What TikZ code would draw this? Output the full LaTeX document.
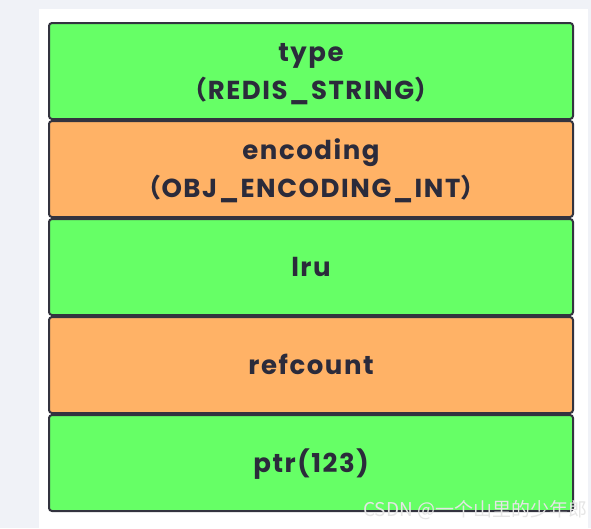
\documentclass[tikz,border=0pt]{standalone}
\usepackage{fontspec}
\usepackage{xcolor}
\usetikzlibrary{positioning}
\setmainfont{Poppins}[LetterSpace=6]
\newfontfamily\cjk{Noto Sans CJK SC}

\definecolor{fieldgreen}{HTML}{66FF66}
\definecolor{fieldorange}{HTML}{FFB266}
\definecolor{fieldline}{HTML}{33333F}
\definecolor{fieldtext}{HTML}{2B2B3B}
\definecolor{pagegray}{HTML}{F0F2F7}

\newcommand{\lpar}{{\cjk（}}
\newcommand{\rpar}{{\cjk）}}

\tikzset{
	field/.style={draw=fieldline, line width=2pt, rounded corners=3pt,
		minimum width=524pt, minimum height=96pt, inner sep=0pt,
		text height=25pt, text depth=6pt,
		align=center, text=fieldtext, font=\fontsize{26}{38}\selectfont\bfseries},
	twolines/.style={text height=62pt, text depth=6pt},
	greenfield/.style={field, fill=fieldgreen},
	orangefield/.style={field, fill=fieldorange},
}

\begin{document}
\begin{tikzpicture}[x=1pt, y=-1pt]
		\fill[pagegray] (0,0) rectangle (591,528);
		\fill[white] (39,9) rectangle (588,528);
		\useasboundingbox (0,0) rectangle (591,528);
		\node [greenfield, twolines] (type) at (311,71) {type\\\lpar REDIS\_STRING\rpar};
		\node [orangefield, twolines, below=0pt of type] (encoding) {encoding\\\lpar OBJ\_ENCODING\_INT\rpar};
		\node [greenfield, below=0pt of encoding] (lru) {lru};
		\node [orangefield, below=0pt of lru] (refcount) {refcount};
		\node [greenfield, below=0pt of refcount] (ptr) {ptr(123)};
		% watermark
		\node [anchor=base west, text=white!80!gray, font=\cjk\fontsize{19}{19}\selectfont, inner sep=0pt]
			(mark) at (363,516) {CSDN @一个山里的少年郎};
\end{tikzpicture}
\end{document}
